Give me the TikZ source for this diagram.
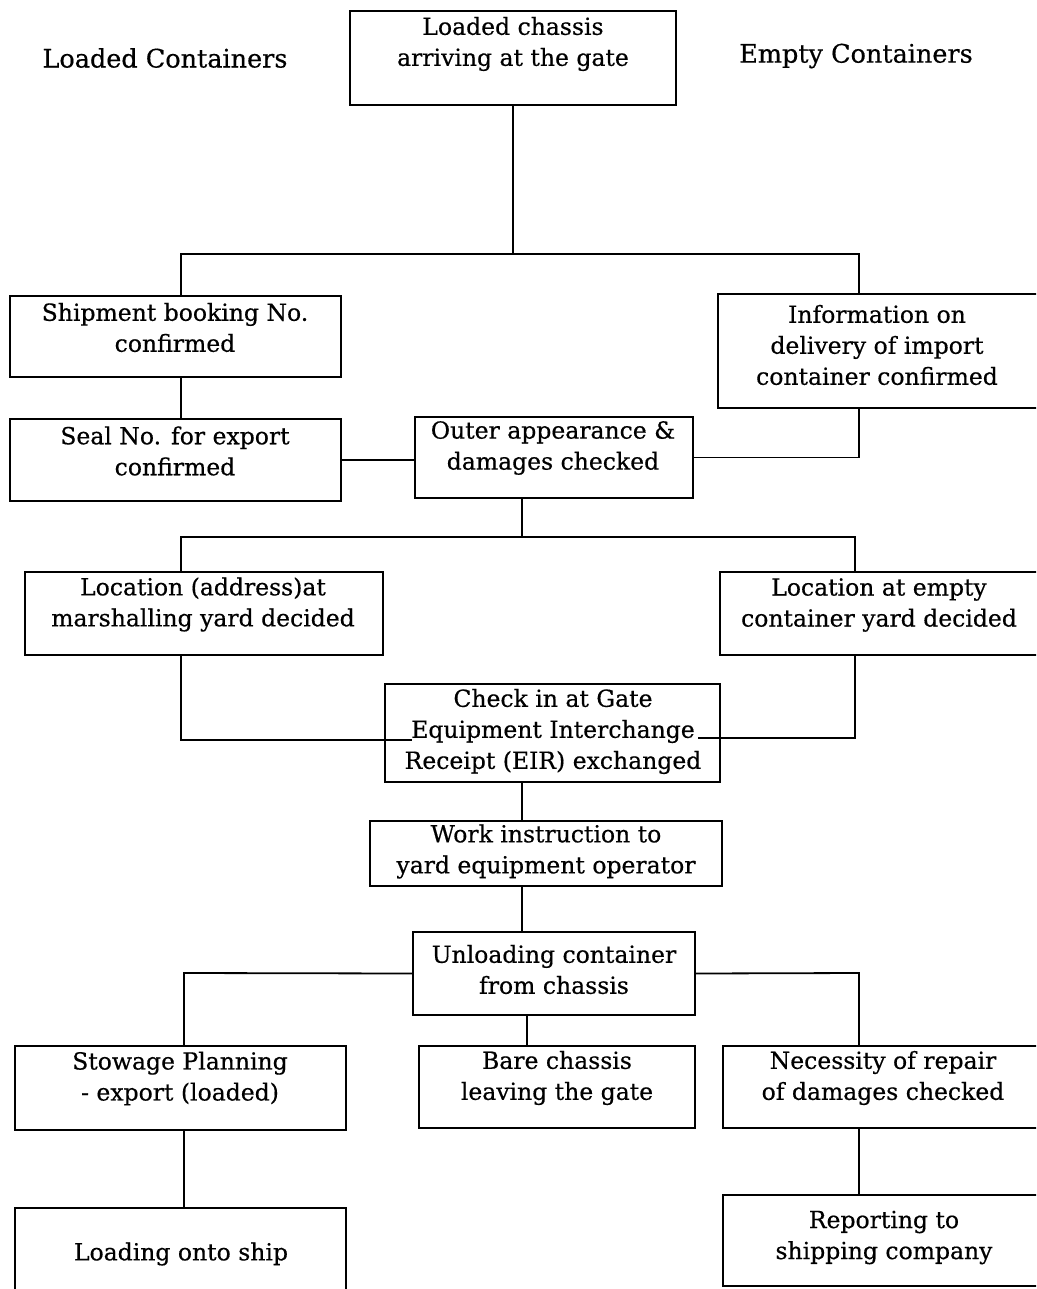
\documentclass[tikz,border=0pt]{standalone}
\usepackage{fontspec}
\setmainfont{DejaVu Serif}[FakeBold=0.5]
\begin{document}
\begin{tikzpicture}[x=1pt, y=-1pt,
  box/.style={draw, line width=1.3pt, rectangle, inner sep=0pt},
  txt/.style={align=center, inner sep=0pt, font=\fontsize{23.5}{31}\selectfont},
  head/.style={inner sep=0pt, font=\fontsize{25.5}{31}\selectfont},
  link/.style={line width=1.8pt}]
% page frame
\clip (0,0) rectangle (1036,1289);
\fill[white] (0,0) rectangle (1036,1289);

% column headings
\node[head] (hdL) at (165,58) {Loaded Containers};
\node[head] (hdR) at (856,56) {Empty Containers};

% process boxes (frames)
\node[box, minimum width=326pt, minimum height=94pt]  (top)    at (513,58)     {};
\node[box, minimum width=331pt, minimum height=81pt]  (ship)   at (175.5,336.5) {};
\node[box, minimum width=332pt, minimum height=114pt] (info)   at (884,351)    {};
\node[box, minimum width=331pt, minimum height=82pt]  (seal)   at (175.5,460)  {};
\node[box, minimum width=278pt, minimum height=81pt]  (outer)  at (554,457.5)  {};
\node[box, minimum width=358pt, minimum height=83pt]  (locL)   at (204,613.5)  {};
\node[box, minimum width=330pt, minimum height=83pt]  (locR)   at (885,613.5)  {};
\node[box, minimum width=335pt, minimum height=98pt]  (check)  at (552.5,733)  {};
\node[box, minimum width=352pt, minimum height=65pt]  (work)   at (546,853.5)  {};
\node[box, minimum width=282pt, minimum height=83pt]  (unload) at (554,973.5)  {};
\node[box, minimum width=331pt, minimum height=84pt]  (stow)   at (180.5,1088) {};
\node[box, minimum width=276pt, minimum height=82pt]  (bare)   at (557,1087)   {};
\node[box, minimum width=327pt, minimum height=82pt]  (nec)    at (886.5,1087) {};
\node[box, minimum width=331pt, minimum height=92pt]  (load)   at (180.5,1254) {};
\node[box, minimum width=327pt, minimum height=91pt]  (rep)    at (886.5,1240.5) {};

% box texts
\node[txt] (top-t)    at (513,44)     {Loaded chassis\\arriving at the gate};
\node[txt] (ship-t)   at (175,327.5)  {Shipment booking No.\\confirmed};
\node[txt] (info-t)   at (877,345)    {Information on\\delivery of import\\container confirmed};
\node[txt] (seal-t)   at (175,451)    {Seal No. for export\\confirmed};
\node[txt] (outer-t)  at (553,448)    {Outer appearance \&\\damages checked};
\node[txt] (locL-t)   at (203,604.5)  {Location (address)at\\marshalling yard decided};
\node[txt] (locR-t)   at (879,605)    {Location at empty\\container yard decided};
\node[txt] (check-t)  at (553,731.5)  {Check in at Gate\\Equipment Interchange\\Receipt (EIR) exchanged};
\node[txt] (work-t)   at (546,851.5)  {Work instruction to\\yard equipment operator};
\node[txt] (unload-t) at (554,969.5)  {Unloading container\\from chassis};
\node[txt] (stow-t)   at (180,1078.5) {Stowage Planning\\- export (loaded)};
\node[txt] (bare-t)   at (557,1078)   {Bare chassis\\leaving the gate};
\node[txt] (nec-t)    at (883,1078)   {Necessity of repair\\of damages checked};
\node[txt] (load-t)   at (181,1254)   {Loading onto ship};
\node[txt] (rep-t)    at (884,1237.5) {Reporting to\\shipping company};

% branch points
\coordinate (j1)  at (513,254);
\coordinate (j1L) at (181,254);
\coordinate (j1R) at (859,254);
\coordinate (j2)  at (522,537);
\coordinate (j2L) at (181,537);
\coordinate (j2R) at (855,537);
\coordinate (spine) at (522,800);
\coordinate (j4L) at (184,973);
\coordinate (j4R) at (859,973);
\coordinate (j5)  at (527,1030);

% connectors
\draw[link] (top.south) -- (j1);
\draw[link] (j1L |- ship.north) -- (j1L) -- (j1R) -- (j1R |- info.north);
\draw[link] (j1L |- ship.south) -- (j1L |- seal.north);
\draw[link] (seal.east) -- (seal.east -| outer.west);
\draw[link] (j1R |- info.south) |- (outer.east);
\draw[link] (j2 |- outer.south) -- (j2);
\draw[link] (j2L |- locL.north) -- (j2L) -- (j2R) -- (j2R |- locR.north);
\draw[link] (j2L |- locL.south) |- ([xshift=28pt,yshift=-7pt]check.west);
\draw[link] (j2R |- locR.south) |- ([xshift=-23pt,yshift=-5pt]check.east);
\draw[link] (spine |- check.south) -- (spine |- work.north);
\draw[link] (spine |- work.south) -- (spine |- unload.north);
\draw[link] (unload.west) -- (j4L) -- (j4L |- stow.north);
\draw[link] (unload.east) -- (j4R) -- (j4R |- nec.north);
\draw[link] (j5 |- unload.south) -- (j5 |- bare.north);
\draw[link] (j4L |- stow.south) -- (j4L |- load.north);
\draw[link] (j4R |- nec.south) -- (j4R |- rep.north);
\end{tikzpicture}
\end{document}
